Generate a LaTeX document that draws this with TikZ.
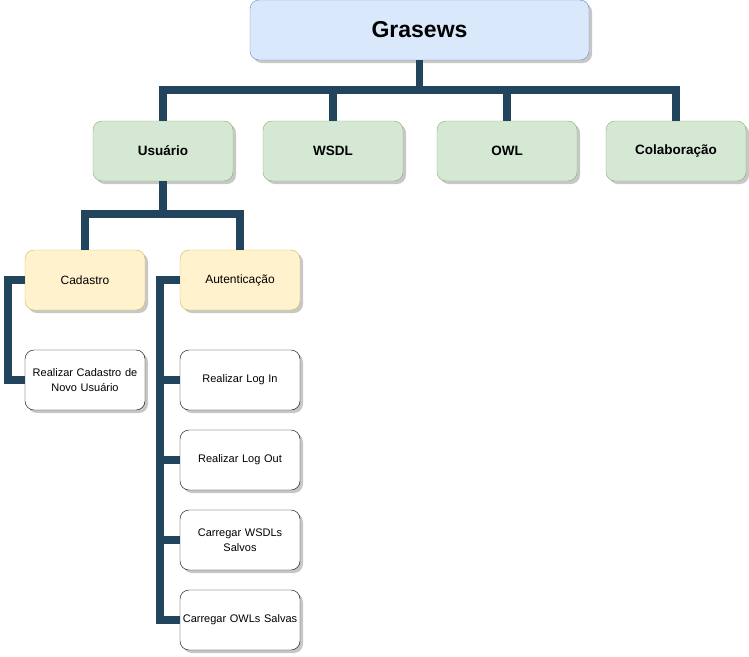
\documentclass[tikz,border=0pt]{standalone}
\usepackage{fontspec}
\setmainfont{Liberation Sans}
\usetikzlibrary{shadows}

\definecolor{rootfill}{HTML}{DAE8FC}
\definecolor{rootline}{HTML}{6C8EBF}
\definecolor{greenfill}{HTML}{D5E8D4}
\definecolor{greenline}{HTML}{82B366}
\definecolor{yellowfill}{HTML}{FFF2CC}
\definecolor{yellowline}{HTML}{D6B656}
\definecolor{linkcolor}{HTML}{23445D}

\tikzset{
	box/.style={draw, rounded corners=9pt, align=center, inner sep=1pt,
		drop shadow={shadow xshift=3pt, shadow yshift=-3pt, opacity=.22, fill=black}},
	rootbox/.style={box, fill=rootfill, draw=rootline, minimum width=339pt, minimum height=60pt,
		font=\fontsize{23}{27}\selectfont\bfseries},
	areabox/.style={box, fill=greenfill, draw=greenline, minimum width=140pt, minimum height=60pt,
		font=\fontsize{13.5}{16}\selectfont\bfseries},
	groupbox/.style={box, fill=yellowfill, draw=yellowline, minimum width=120pt, minimum height=60pt,
		font=\fontsize{12}{14}\selectfont},
	taskbox/.style={box, fill=white, draw=black, minimum width=120pt, minimum height=60pt,
		text width=118pt, font=\fontsize{11}{15}\selectfont},
	link/.style={draw=linkcolor, line width=7.5pt}
}

\begin{document}
\begin{tikzpicture}[x=1pt, y=-1pt]
	\useasboundingbox (0,0) rectangle (749,656);
	\node[rootbox] (grasews) at (419.5,30) {Grasews};
	\node[areabox] (usuario) at (163,151) {Usuário};
	\node[areabox] (wsdl) at (333,151) {WSDL};
	\node[areabox] (owl) at (507,151) {OWL};
	\node[areabox] (colab) at (676,151) {Colaboração};
	\node[groupbox] (cadastro) at (85,280) {Cadastro};
	\node[groupbox] (autent) at (240,280) {Autenticação};
	\node[taskbox] (novousr) at (85,380) {Realizar Cadastro de\\Novo Usuário};
	\node[taskbox] (login) at (240,380) {Realizar Log In};
	\node[taskbox] (logout) at (240,460) {Realizar Log Out};
	\node[taskbox] (wsdls) at (240,540) {Carregar WSDLs\\Salvos};
	\node[taskbox] (owls) at (240,620) {Carregar OWLs Salvas};
	\foreach \child in {usuario, wsdl, owl, colab}
		\draw[link] (grasews.south) -- ++(0,30) -| (\child.north);
	\foreach \child in {cadastro, autent}
		\draw[link] (usuario.south) -- ++(0,33) -| (\child.north);
	\draw[link] (cadastro.west) -- ++(-17,0) |- (novousr.west);
	\foreach \child in {login, logout, wsdls, owls}
		\draw[link] (autent.west) -- ++(-20,0) |- (\child.west);
\end{tikzpicture}
\end{document}
